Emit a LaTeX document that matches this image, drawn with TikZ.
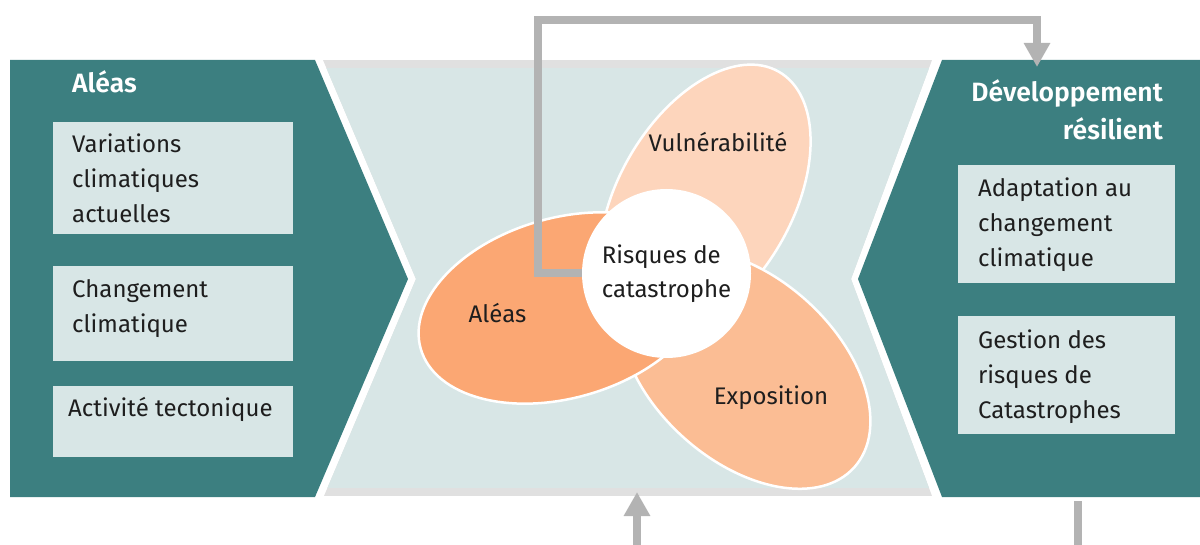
\documentclass[tikz,border=0pt]{standalone}
\usepackage{fontspec}
\setmainfont{Fira Sans}[BoldFont={Fira Sans SemiBold}]
\usepackage{tikz}
\usetikzlibrary{calc,arrows.meta}
\definecolor{petrol}{HTML}{3C7F80}
\definecolor{pale}{HTML}{D8E6E6}
\definecolor{band}{HTML}{E0E0E0}
\definecolor{flowgray}{HTML}{B3B3B3}
\definecolor{vuln}{HTML}{FDD5BC}
\definecolor{expo}{HTML}{FBBD94}
\definecolor{alea}{HTML}{FBA773}
\definecolor{ink}{HTML}{1E1E1E}
% box: name, x, y, width, height, text dx, dy of last baseline, text
\newcommand\infobox[8]{%
  \node[infobox, minimum width=#4, minimum height=#5] (#1) at (#2,#3) {};
  \node[boxtext] (#1t) at ($(#1.north west)+(#6,#7)$) {#8};
}
\newcommand\petal[6]{%
  \draw[petal, fill=#1, shift={(#2,#3)}, rotate=#4] (0,0) ellipse [x radius=#5, y radius=#6];
}

\begin{document}
\begin{tikzpicture}
[x=1pt, y=-1pt,
 infobox/.style={fill=pale, anchor=north west, inner sep=0},
 boxtext/.style={anchor=base west, align=left, inner sep=0, text=ink,
   font=\fontsize{24}{35}\selectfont},
 head/.style={text=white, inner sep=0, font=\bfseries\fontsize{26.5}{38}\selectfont},
 petal/.style={draw=white, line width=2.5pt},
 label/.style={anchor=base, inner sep=0, text=ink, font=\fontsize{24}{35}\selectfont},
 hub/.style={circle, fill=white, minimum size=169, inner sep=0, align=left, text=ink,
   font=\fontsize{24}{34}\selectfont},
 flow/.style={draw=flowgray, line width=8pt},
 tip/.style={-{Triangle[width=25pt,length=24pt]}}]
\useasboundingbox (0,0) rectangle (1200,545);
% side wings
\fill[petrol] (10,60) -- (315,60) -- (408,279) -- (315,497) -- (10,497) -- cycle;
\fill[petrol] (942,60) -- (1200,60) -- (1200,497) -- (942,497) -- (858,279) -- cycle;
% centre field
\begin{scope}
  \clip (323,60) -- (932,60) -- (851,279) -- (932,496) -- (324,496) -- (416,279) -- cycle;
  \fill[band] (300,60) rectangle (950,496);
  \fill[pale] (300,68) rectangle (950,488);
\end{scope}
\node[head, anchor=base west] (hazhead) at (72,93) {Aléas};
\node[head, anchor=base east, align=right] (devhead) at (1163,140) {Développement\\résilient};
\infobox{haz1}{53}{122}{240}{112}{19}{101}{Variations\\climatiques\\actuelles}
\infobox{haz2}{53}{266}{240}{95}{19}{67}{Changement\\climatique}
\infobox{haz3}{53}{386}{240}{71}{15}{30}{Activité tectonique}
\infobox{res1}{958}{165}{217}{118}{20}{102}{Adaptation au\\changement\\climatique}
\infobox{res2}{958}{316}{217}{118}{20}{102}{Gestion des\\risques de\\Catastrophes}
% the three petals
\petal{vuln}{705}{200}{60}{148}{87}
\petal{expo}{745}{369}{-42}{147}{92}
\petal{alea}{563}{308}{16}{148}{90}
\node[label] (vultxt) at (718,152) {Vulnérabilité};
\node[label] (expotxt) at (771,405) {Exposition};
\node[label] (aleatxt) at (497.5,323) {Aléas};
\coordinate (devtop) at (1037,67);
\coordinate (devbot) at (1078,501);
\coordinate (midbot) at (637,492);
\node[hub] (risk) at (666.5,273.5) {Risques de\\catastrophe};
\draw[flow, tip] (risk.west) -- (538,273.5) -- (538,20) -| (devtop);
\draw[flow, tip] (devbot) -- (1078,553) -| (midbot);
\end{tikzpicture}
\end{document}
